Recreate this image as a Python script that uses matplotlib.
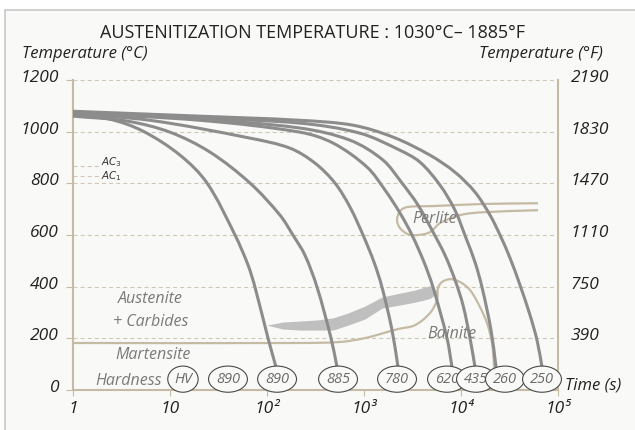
import numpy as np
import matplotlib.pyplot as plt
import matplotlib.transforms as mtransforms
from matplotlib.path import Path
from matplotlib.patches import PathPatch, Rectangle

plt.rcParams['font.family'] = ['Open Sans', 'DejaVu Sans']

# cooling curves: time (s) / temperature (C)
c1_t = [1, 2.41, 5.27, 12.7, 24.1, 46.8, 63.7, 75.2, 102.4, 123.8]
c1_T = [1064, 1048, 1002, 909, 801, 600, 484, 398, 201, 89]
c2_t = [1, 3.6, 10, 25.8, 66.8, 136, 185, 246, 328, 457, 527]
c2_T = [1060, 1041, 998, 921, 801, 677, 600, 522, 398, 201, 89]
c3_t = [1, 6.22, 66.8, 173, 313, 502, 717, 977, 1268, 1533, 1944, 2242]
c3_T = [1068, 1044, 975, 936, 878, 801, 708, 600, 495, 398, 232, 89]
c4_t = [1, 20.4, 219, 479, 1074, 1647, 2350, 3125, 4155, 5144, 7173, 8075]
c4_T = [1072, 1044, 998, 956, 863, 774, 685, 600, 495, 398, 201, 89]
c5_t = [1, 20.4, 219, 717, 1570, 2465, 3603, 5023, 6840, 8672, 10480, 12380, 13940]
c5_T = [1075, 1048, 1014, 967, 890, 801, 716, 619, 522, 426, 329, 201, 89]
c6_t = [1, 20.4, 219, 910, 2350, 3778, 6074, 8672, 11260, 13940, 16460, 20390, 22950]
c6_T = [1075, 1052, 1033, 994, 928, 882, 793, 696, 588, 495, 398, 232, 89]
c7_t = [1, 20.4, 219, 770, 1991, 4790, 8672, 13940, 19910, 25240, 32000,
        40580, 51440, 60740, 68420]
c7_T = [1079, 1060, 1044, 1025, 979, 909, 843, 766, 677, 600, 511,
        406, 290, 193, 89]
curves = [(c1_t, c1_T), (c2_t, c2_T), (c3_t, c3_T), (c4_t, c4_T),
          (c5_t, c5_T), (c6_t, c6_T), (c7_t, c7_T)]

# martensite start + bainite boundary
bain_t = [1, 219, 566, 1024, 2243, 3356, 4790, 5656, 5794, 6370, 7700,
          9770, 12380, 15700, 18540, 20890, 21900, 22440]
bain_T = [182, 182, 186, 201, 236, 251, 298, 348, 395, 418, 429,
          418, 387, 321, 259, 182, 89, 0]

# perlite nose
perl_t = [62200, 16860, 5140, 2776, 2350, 2190, 2350, 2844, 3603, 4790,
          6080, 9770, 16860, 62200]
perl_T = [723, 720, 712, 708, 692, 658, 627, 603, 600, 611,
          646, 677, 688, 696]

# carbide band
band_t = [102, 146, 219, 327, 479, 684, 1024, 1535, 2350, 3356, 4790, 5800]
band_hi = [252, 263, 267, 271, 279, 298, 325, 360, 375, 387, 404, 379]
band_lo = [250, 236, 232, 232, 232, 251, 275, 317, 329, 340, 354, 379]

# hardness
hard_labels = ['HV', '890', '890', '885', '780', '620', '435', '260', '250']
hard_t = [13.6, 39.6, 127, 540, 2190, 7178, 14280, 28400, 68400]
hard_T = 42

yticks_c = [0, 200, 400, 600, 800, 1000, 1200]
yticks_f = ['390', '750', '1110', '1470', '1830', '2190']
xticks = [1, 10, 1e2, 1e3, 1e4, 1e5]
xlabels = ['1', '10', '10²', '10³', '10⁴', '10⁵']
ac3, ac1 = 866, 828

bg = '#f9f9f7'
tan = '#c5bba4'
grey = '#8c8c8c'


def smooth(ax, t, T, **kw):
    # cubic spline through the points, tangents from chord lengths
    sx, sy = 97.0, 0.2585
    p = np.column_stack([np.log10(t) * sx, np.asarray(T, float) * sy])
    d = np.hypot(*np.diff(p, axis=0).T)
    m = np.zeros_like(p)
    m[0] = (p[1] - p[0]) / d[0]
    m[-1] = (p[-1] - p[-2]) / d[-1]
    for i in range(1, len(p) - 1):
        m[i] = (p[i + 1] - p[i - 1]) / (d[i - 1] + d[i])
    verts = [p[0]]
    codes = [Path.MOVETO]
    for i in range(len(p) - 1):
        verts += [p[i] + m[i] * d[i] / 3, p[i + 1] - m[i + 1] * d[i] / 3, p[i + 1]]
        codes += [Path.CURVE4] * 3
    verts = np.array(verts)
    verts[:, 0] = 10 ** (verts[:, 0] / sx)
    verts[:, 1] = verts[:, 1] / sy
    ax.add_patch(PathPatch(Path(verts, codes), fill=False, **kw))


fig = plt.figure(figsize=(6.35, 4.3), dpi=100)
fig.patch.set_facecolor('white')
fig.patches.append(Rectangle((5 / 635, -0.05), 1.0, 1 - 10 / 430 + 0.05,
                             transform=fig.transFigure, fc=bg, ec='#c8c8c8',
                             lw=1.2, zorder=-10))

ax = fig.add_axes([73 / 635, 40 / 430, 485 / 635, 310 / 430])
ax.set_facecolor('none')
ax.set_xscale('log')
ax.set_xlim(1, 1e5)
ax.set_ylim(0, 1200)

for s in ['left', 'bottom', 'right']:
    ax.spines[s].set_color(tan)
    ax.spines[s].set_linewidth(1.5)
ax.spines['top'].set_visible(False)

for y in yticks_c[1:]:
    ax.axhline(y, color='#cfc6b3', lw=0.8, ls=(0, (3.6, 2.8)), zorder=1)

ax.set_yticks(yticks_c)
ax.set_yticklabels([str(v) for v in yticks_c], fontstyle='italic',
                   fontsize=12.5, color='#222222')
ax.tick_params(axis='y', length=5, color=tan, pad=5)
ax.set_xticks(xticks)
ax.set_xticklabels(xlabels, fontstyle='italic', fontsize=12.5, color='#222222')
ax.xaxis.set_minor_locator(plt.NullLocator())
ax.tick_params(axis='x', length=4, color=tan, pad=4)

ax2 = ax.twinx()
ax2.set_ylim(0, 1200)
ax2.set_yticks(yticks_c[1:])
ax2.set_yticklabels(yticks_f, fontstyle='italic', fontsize=12.5, color='#222222')
ax2.tick_params(axis='y', length=0, pad=9)
for s in ax2.spines.values():
    s.set_visible(False)

off = mtransforms.ScaledTranslation(0, 4 / 100, fig.dpi_scale_trans)
for lab in ax.get_yticklabels() + ax2.get_yticklabels():
    lab.set_transform(lab.get_transform() + off)

# AC lines
for v, txt, va in [(ac3, r'$AC_3$', 'bottom'), (ac1, r'$AC_1$', 'center')]:
    ax.plot([1, 1.9], [v, v], color='#cfc6b3', lw=0.8, ls=(0, (3.6, 2.8)))
    ax.text(1.95, v - 12 if va == 'bottom' else v, txt, fontsize=7.5, va=va,
            color='#333333')

# phases
ax.fill_between(band_t, band_lo, band_hi, color='#bfbfbf', lw=0, zorder=2)
smooth(ax, bain_t, bain_T, ec=tan, lw=1.6, zorder=3)
smooth(ax, perl_t, perl_T, ec=tan, lw=1.6, zorder=3)
for t, T in curves:
    smooth(ax, t, T, ec=grey, lw=2.2, zorder=4, capstyle='round')

lab_kw = dict(fontstyle='italic', fontsize=11.5, color='#7a7a7a', ha='center',
              va='center', zorder=6)
ax.text(6.2, 352, 'Austenite', **lab_kw)
ax.text(6.3, 263, '+ Carbides', **lab_kw)
ax.text(6.7, 135, 'Martensite', **lab_kw)
ax.text(8075, 217, 'Bainite', **lab_kw)
ax.text(5400, 662, 'Perlite', **lab_kw)
ax.text(8.3, 35, 'Hardness', fontstyle='italic', fontsize=11.5, color='#7a7a7a',
        ha='right', va='center', zorder=6)

for lab, t in zip(hard_labels, hard_t):
    ax.text(t, hard_T, lab, fontstyle='italic', fontsize=10.5, color='#6a6a6a',
            ha='center', va='center', zorder=7,
            bbox=dict(boxstyle='ellipse,pad=0.12', fc=bg, ec='#4a4a4a', lw=0.8))

fig.text(312 / 635, 1 - 33 / 430, 'AUSTENITIZATION TEMPERATURE : 1030°C– 1885°F',
         ha='center', va='center', fontsize=13, color='#222222')
fig.text(22 / 635, 1 - 54 / 430, 'Temperature (°C)', ha='left', va='center',
         fontstyle='italic', fontsize=12, color='#222222')
fig.text(603 / 635, 1 - 54 / 430, 'Temperature (°F)', ha='right', va='center',
         fontstyle='italic', fontsize=12, color='#222222')
fig.text(565 / 635, 1 - 386 / 430, 'Time (s)', ha='left', va='center',
         fontstyle='italic', fontsize=12, color='#222222')

fig.savefig('out.png', dpi=100, facecolor=fig.get_facecolor())
